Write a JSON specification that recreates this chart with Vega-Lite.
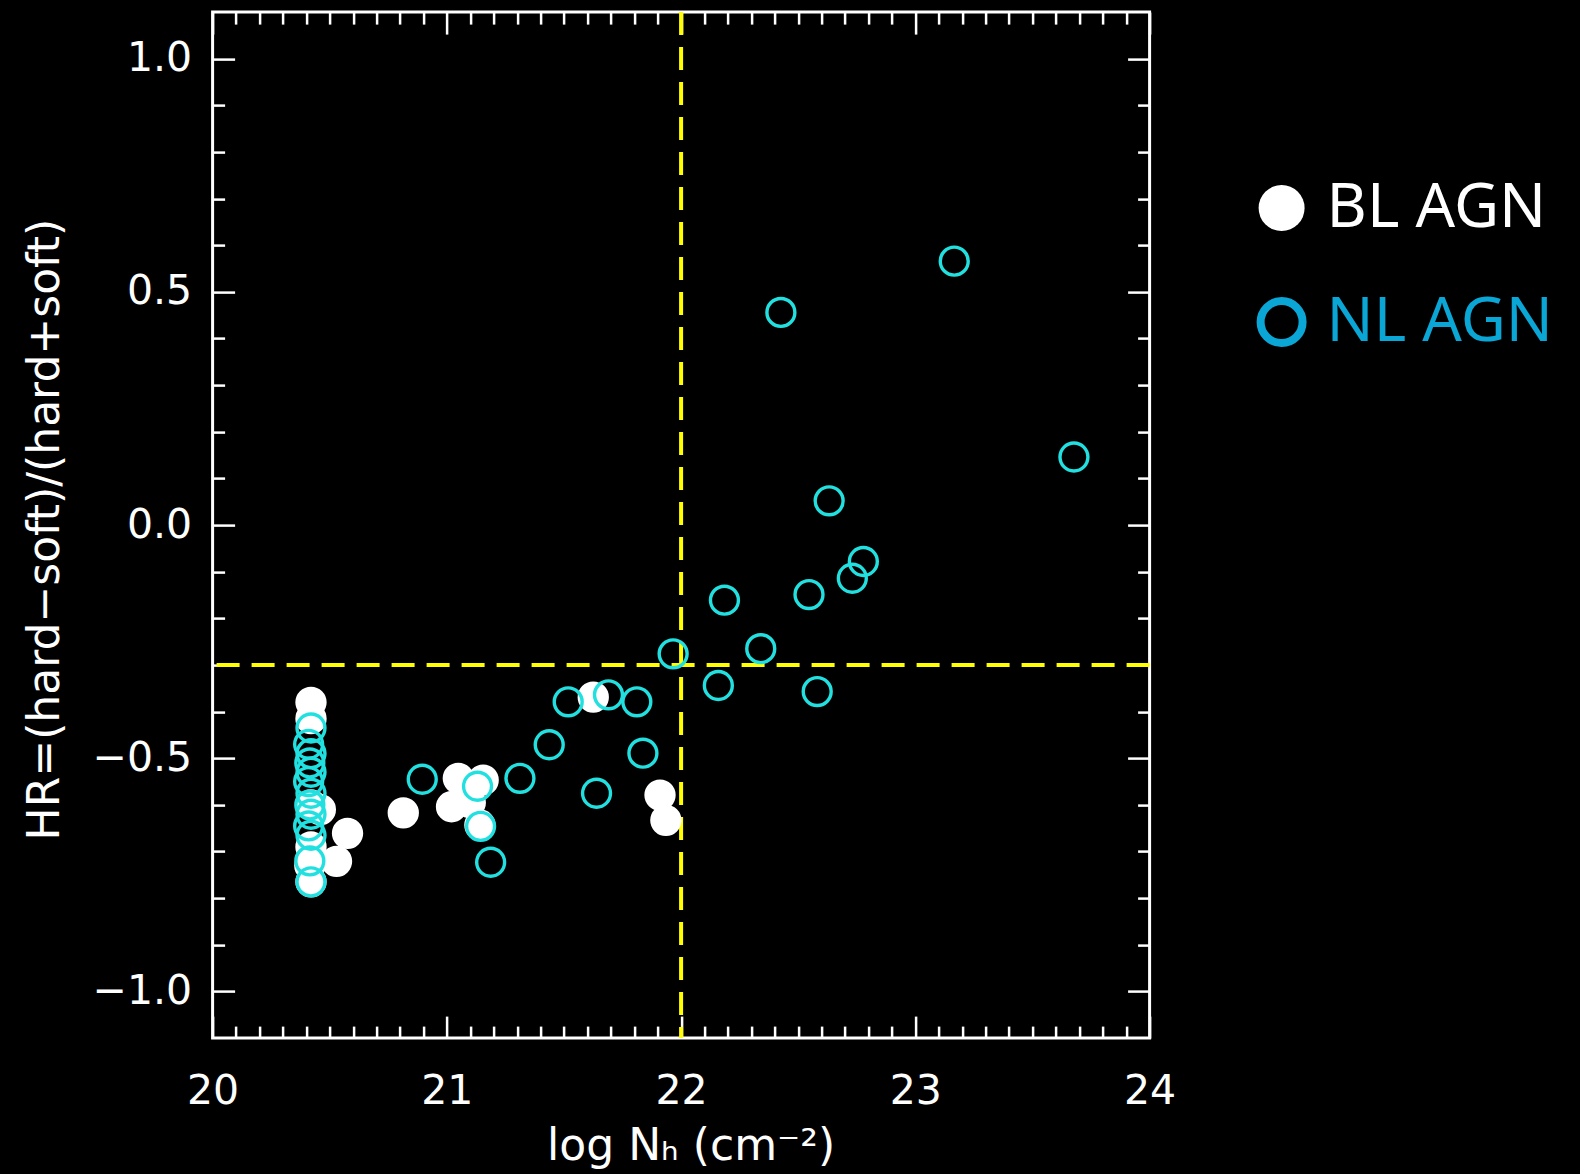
{
  "$schema": "https://vega.github.io/schema/vega-lite/v6.json",
  "width": 937,
  "height": 1026,
  "autosize": {"type": "none"},
  "padding": {"left": 212.6, "top": 12.1, "right": 430.4, "bottom": 135.9},
  "background": "black",
  "config": {
    "view": {"fill": "black", "stroke": "white", "strokeWidth": 3},
    "axis": {
      "grid": false, "domain": false,
      "labelColor": "white", "titleColor": "white", "tickColor": "white", "tickWidth": 2.5,
      "labelFont": "DejaVu Sans", "titleFont": "DejaVu Sans",
      "labelFontSize": 41, "titleFontSize": 44, "titleFontWeight": "normal",
      "labelFlush": false, "labelOverlap": false
    }
  },
  "datasets": {
    "pts": [
      {"type": "BL AGN", "x": 20.42, "y": -0.38},
      {"type": "BL AGN", "x": 20.42, "y": -0.415},
      {"type": "BL AGN", "x": 20.42, "y": -0.6},
      {"type": "BL AGN", "x": 20.42, "y": -0.69},
      {"type": "BL AGN", "x": 20.415, "y": -0.73},
      {"type": "BL AGN", "x": 20.42, "y": -0.765},
      {"type": "BL AGN", "x": 20.46, "y": -0.61},
      {"type": "BL AGN", "x": 20.576, "y": -0.661},
      {"type": "BL AGN", "x": 20.529, "y": -0.721},
      {"type": "BL AGN", "x": 20.814, "y": -0.617},
      {"type": "BL AGN", "x": 21.02, "y": -0.604},
      {"type": "BL AGN", "x": 21.049, "y": -0.543},
      {"type": "BL AGN", "x": 21.155, "y": -0.547},
      {"type": "BL AGN", "x": 21.1, "y": -0.595},
      {"type": "BL AGN", "x": 21.141, "y": -0.643},
      {"type": "BL AGN", "x": 21.625, "y": -0.369},
      {"type": "BL AGN", "x": 21.91, "y": -0.579},
      {"type": "BL AGN", "x": 21.935, "y": -0.633},
      {"type": "NL AGN", "x": 20.42, "y": -0.435},
      {"type": "NL AGN", "x": 20.41, "y": -0.47},
      {"type": "NL AGN", "x": 20.42, "y": -0.49},
      {"type": "NL AGN", "x": 20.415, "y": -0.51},
      {"type": "NL AGN", "x": 20.42, "y": -0.53},
      {"type": "NL AGN", "x": 20.41, "y": -0.55},
      {"type": "NL AGN", "x": 20.42, "y": -0.575},
      {"type": "NL AGN", "x": 20.415, "y": -0.6},
      {"type": "NL AGN", "x": 20.42, "y": -0.62},
      {"type": "NL AGN", "x": 20.41, "y": -0.645},
      {"type": "NL AGN", "x": 20.42, "y": -0.665},
      {"type": "NL AGN", "x": 20.415, "y": -0.72},
      {"type": "NL AGN", "x": 20.42, "y": -0.765},
      {"type": "NL AGN", "x": 23.166, "y": 0.566},
      {"type": "NL AGN", "x": 22.426, "y": 0.456},
      {"type": "NL AGN", "x": 23.677, "y": 0.146},
      {"type": "NL AGN", "x": 22.632, "y": 0.052},
      {"type": "NL AGN", "x": 22.778, "y": -0.078},
      {"type": "NL AGN", "x": 22.731, "y": -0.114},
      {"type": "NL AGN", "x": 22.185, "y": -0.161},
      {"type": "NL AGN", "x": 22.546, "y": -0.149},
      {"type": "NL AGN", "x": 22.34, "y": -0.265},
      {"type": "NL AGN", "x": 21.966, "y": -0.276},
      {"type": "NL AGN", "x": 22.159, "y": -0.344},
      {"type": "NL AGN", "x": 22.581, "y": -0.357},
      {"type": "NL AGN", "x": 21.69, "y": -0.364},
      {"type": "NL AGN", "x": 21.518, "y": -0.379},
      {"type": "NL AGN", "x": 21.811, "y": -0.379},
      {"type": "NL AGN", "x": 21.437, "y": -0.471},
      {"type": "NL AGN", "x": 21.837, "y": -0.489},
      {"type": "NL AGN", "x": 21.312, "y": -0.543},
      {"type": "NL AGN", "x": 20.895, "y": -0.545},
      {"type": "NL AGN", "x": 21.639, "y": -0.575},
      {"type": "NL AGN", "x": 21.131, "y": -0.56},
      {"type": "NL AGN", "x": 21.144, "y": -0.646},
      {"type": "NL AGN", "x": 21.187, "y": -0.723}
    ],
    "vline": [{"v": 22}],
    "hline": [{"v": -0.3}]
  },
  "resolve": {
    "axis": {"x": "independent", "y": "independent"},
    "scale": {"fill": "independent", "stroke": "independent"},
    "legend": {"fill": "independent", "stroke": "independent"}
  },
  "layer": [
    {
      "data": {"name": "pts"},
      "mark": {"type": "point", "opacity": 0},
      "encoding": {
        "x": {"field": "x", "type": "quantitative", "scale": {"domain": [20, 24], "nice": false, "zero": false},
              "axis": {"orient": "bottom", "labels": false, "title": null, "tickSize": -22,
                       "values": [20, 21, 22, 23, 24]}},
        "y": {"field": "y", "type": "quantitative", "scale": {"domain": [-1.1, 1.1], "nice": false, "zero": false},
              "axis": {"orient": "left", "labels": false, "title": null, "tickSize": -22,
                       "values": [-1, -0.5, 0, 0.5, 1]}}
      }
    },
    {
      "data": {"name": "pts"},
      "mark": {"type": "point", "opacity": 0},
      "encoding": {
        "x": {"field": "x", "type": "quantitative", "scale": {"domain": [20, 24], "nice": false, "zero": false},
              "axis": {"orient": "bottom", "labels": false, "title": null, "tickSize": -12,
                       "values": [20.1,20.2,20.3,20.4,20.5,20.6,20.7,20.8,20.9,21.1,21.2,21.3,21.4,21.5,21.6,21.7,21.8,21.9,22.1,22.2,22.3,22.4,22.5,22.6,22.7,22.8,22.9,23.1,23.2,23.3,23.4,23.5,23.6,23.7,23.8,23.9]}},
        "y": {"field": "y", "type": "quantitative", "scale": {"domain": [-1.1, 1.1], "nice": false, "zero": false},
              "axis": {"orient": "left", "labels": false, "title": null, "tickSize": -12,
                       "values": [-0.9,-0.8,-0.7,-0.6,-0.4,-0.3,-0.2,-0.1,0.1,0.2,0.3,0.4,0.6,0.7,0.8,0.9]}}
      }
    },
    {
      "data": {"name": "pts"},
      "mark": {"type": "point", "opacity": 0},
      "encoding": {
        "x": {"field": "x", "type": "quantitative", "scale": {"domain": [20, 24], "nice": false, "zero": false},
              "axis": {"orient": "top", "labels": false, "title": null, "tickSize": -22,
                       "values": [20, 21, 22, 23, 24]}},
        "y": {"field": "y", "type": "quantitative", "scale": {"domain": [-1.1, 1.1], "nice": false, "zero": false},
              "axis": {"orient": "right", "labels": false, "title": null, "tickSize": -22,
                       "values": [-1, -0.5, 0, 0.5, 1]}}
      }
    },
    {
      "data": {"name": "pts"},
      "mark": {"type": "point", "opacity": 0},
      "encoding": {
        "x": {"field": "x", "type": "quantitative", "scale": {"domain": [20, 24], "nice": false, "zero": false},
              "axis": {"orient": "top", "labels": false, "title": null, "tickSize": -12,
                       "values": [20.1,20.2,20.3,20.4,20.5,20.6,20.7,20.8,20.9,21.1,21.2,21.3,21.4,21.5,21.6,21.7,21.8,21.9,22.1,22.2,22.3,22.4,22.5,22.6,22.7,22.8,22.9,23.1,23.2,23.3,23.4,23.5,23.6,23.7,23.8,23.9]}},
        "y": {"field": "y", "type": "quantitative", "scale": {"domain": [-1.1, 1.1], "nice": false, "zero": false},
              "axis": {"orient": "right", "labels": false, "title": null, "tickSize": -12,
                       "values": [-0.9,-0.8,-0.7,-0.6,-0.4,-0.3,-0.2,-0.1,0.1,0.2,0.3,0.4,0.6,0.7,0.8,0.9]}}
      }
    },
    {
      "data": {"name": "vline"},
      "mark": {"type": "rule", "color": "#ffff00", "strokeWidth": 4, "strokeDash": [23, 12]},
      "encoding": {
        "x": {"field": "v", "type": "quantitative", "scale": {"domain": [20, 24], "nice": false, "zero": false}, "axis": null}
      }
    },
    {
      "data": {"name": "hline"},
      "mark": {"type": "rule", "color": "#ffff00", "strokeWidth": 4, "strokeDash": [23, 12]},
      "encoding": {
        "y": {"field": "v", "type": "quantitative", "scale": {"domain": [-1.1, 1.1], "nice": false, "zero": false}, "axis": null}
      }
    },
    {
      "data": {"name": "pts"},
      "mark": {"type": "point", "shape": "circle", "filled": true, "opacity": 1, "size": 780, "strokeWidth": 3.4},
      "encoding": {
        "x": {"field": "x", "type": "quantitative", "scale": {"domain": [20, 24], "nice": false, "zero": false},
              "axis": {"orient": "bottom", "ticks": false, "labelPadding": 33, "format": "d",
                       "values": [20, 21, 22, 23, 24],
                       "title": "log Nₕ (cm⁻²)", "titleX": 478, "titleY": 108,
                       "titleBaseline": "middle", "titleAlign": "center"}},
        "y": {"field": "y", "type": "quantitative", "scale": {"domain": [-1.1, 1.1], "nice": false, "zero": false},
              "axis": {"orient": "left", "ticks": false, "labelPadding": 21, "format": ".1f",
                       "values": [-1, -0.5, 0, 0.5, 1],
                       "title": "HR=(hard−soft)/(hard+soft)", "titleX": -167, "titleY": 517,
                       "titleAngle": -90, "titleBaseline": "middle", "titleAlign": "center"}},
        "fill": {"field": "type", "type": "nominal",
                 "scale": {"domain": ["BL AGN", "NL AGN"], "range": ["#ffffff", "rgba(0,0,0,0)"]},
                 "legend": null},
        "stroke": {"field": "type", "type": "nominal",
                   "scale": {"domain": ["BL AGN", "NL AGN"], "range": ["#ffffff", "#22e0e0"]},
                   "legend": null}
      }
    },
    {
      "data": {"name": "pts"},
      "mark": {"type": "point", "shape": "circle", "filled": true, "opacity": 1, "size": 0, "strokeWidth": 0},
      "encoding": {
        "x": {"field": "x", "type": "quantitative", "scale": {"domain": [20, 24], "nice": false, "zero": false}, "axis": null},
        "y": {"field": "y", "type": "quantitative", "scale": {"domain": [-1.1, 1.1], "nice": false, "zero": false}, "axis": null},
        "fill": {"field": "type", "type": "nominal",
                 "scale": {"domain": ["BL AGN", "NL AGN"], "range": ["#ffffff", "rgba(0,0,0,0)"]},
                 "legend": {
                   "orient": "none", "legendX": 1038, "legendY": 165, "title": null,
                   "padding": 0, "labelFont": "Noto Sans", "labelFontSize": 62, "labelColor": "white",
                   "labelLimit": 500, "labelOffset": 14, "rowPadding": 46,
                   "symbolType": "circle", "symbolSize": 2116, "symbolStrokeWidth": 8, "symbolOpacity": 1,
                   "encode": {
                     "labels": {"update": {"fill": {"signal": "datum.value === 'NL AGN' ? '#0aa6d6' : '#ffffff'"}}},
                     "symbols": {"update": {
                       "opacity": {"value": 1},
                       "fill": {"signal": "datum.value === 'NL AGN' ? 'transparent' : '#ffffff'"},
                       "strokeWidth": {"signal": "datum.value === 'NL AGN' ? 8 : 0"},
                       "size": {"signal": "datum.value === 'NL AGN' ? 1764 : 2116"}
                     }}
                   }
                 }},
        "stroke": {"field": "type", "type": "nominal",
                   "scale": {"domain": ["BL AGN", "NL AGN"], "range": ["#ffffff", "#0aa6d6"]},
                   "legend": null}
      }
    }
  ]
}
